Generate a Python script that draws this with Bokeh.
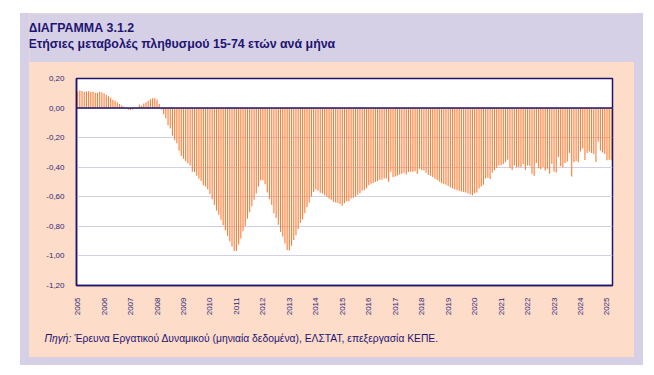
from math import pi
from bokeh.plotting import figure
from bokeh.layouts import column, row
from bokeh.models import (Range1d, FixedTicker, CustomJSTickFormatter, Span, Label,
                          ColumnDataSource, Spacer)
from bokeh.embed import file_html
from bokeh.resources import INLINE

# ---- data: annual % change of population 15-74, monthly (Jan 2005 - Mar 2025)
y2005 = [0.113, 0.118, 0.116, 0.109, 0.113, 0.113, 0.109, 0.111, 0.104, 0.104, 0.111, 0.107]
y2006 = [0.098, 0.089, 0.080, 0.069, 0.056, 0.049, 0.038, 0.027, 0.018, 0.009, 0.002, -0.011]
y2007 = [-0.013, -0.009, 0.001, 0.007, 0.024, 0.016, 0.031, 0.040, 0.049, 0.060, 0.067, 0.067]
y2008 = [0.058, 0.027, -0.009, -0.042, -0.071, -0.116, -0.138, -0.187, -0.216, -0.238, -0.289, -0.324]
y2009 = [-0.342, -0.360, -0.373, -0.389, -0.431, -0.433, -0.458, -0.476, -0.493, -0.522, -0.531, -0.549]
y2010 = [-0.582, -0.616, -0.656, -0.693, -0.722, -0.756, -0.793, -0.827, -0.864, -0.900, -0.936, -0.967]
y2011 = [-0.967, -0.922, -0.882, -0.833, -0.798, -0.749, -0.704, -0.664, -0.620, -0.578, -0.531, -0.489]
y2012 = [-0.489, -0.516, -0.571, -0.616, -0.656, -0.711, -0.744, -0.789, -0.838, -0.871, -0.916, -0.960]
y2013 = [-0.964, -0.931, -0.893, -0.860, -0.820, -0.778, -0.753, -0.711, -0.671, -0.638, -0.600, -0.567]
y2014 = [-0.551, -0.560, -0.573, -0.578, -0.589, -0.600, -0.611, -0.620, -0.633, -0.638, -0.642, -0.649]
y2015 = [-0.660, -0.644, -0.631, -0.631, -0.611, -0.607, -0.598, -0.587, -0.576, -0.560, -0.556, -0.542]
y2016 = [-0.522, -0.511, -0.507, -0.500, -0.493, -0.484, -0.484, -0.476, -0.476, -0.498, -0.431, -0.467]
y2017 = [-0.462, -0.456, -0.451, -0.444, -0.438, -0.449, -0.433, -0.431, -0.431, -0.427, -0.444, -0.411]
y2018 = [-0.420, -0.422, -0.438, -0.453, -0.458, -0.467, -0.478, -0.487, -0.496, -0.509, -0.511, -0.518]
y2019 = [-0.527, -0.538, -0.544, -0.551, -0.556, -0.560, -0.564, -0.567, -0.571, -0.578, -0.584, -0.589]
y2020 = [-0.576, -0.571, -0.544, -0.531, -0.518, -0.476, -0.471, -0.480, -0.438, -0.420, -0.404, -0.389]
y2021 = [-0.387, -0.378, -0.364, -0.349, -0.404, -0.418, -0.389, -0.400, -0.398, -0.400, -0.378, -0.418]
y2022 = [-0.389, -0.391, -0.444, -0.458, -0.371, -0.407, -0.413, -0.398, -0.422, -0.411, -0.444, -0.378]
y2023 = [-0.431, -0.436, -0.331, -0.393, -0.400, -0.371, -0.362, -0.304, -0.462, -0.367, -0.358, -0.367]
y2024 = [-0.293, -0.273, -0.351, -0.304, -0.293, -0.304, -0.311, -0.364, -0.227, -0.289, -0.300, -0.311]
y2025 = [-0.353, -0.349, -0.353]

years = list(range(2005, 2026))
y_ticks = [-1.2, -1.0, -0.8, -0.6, -0.4, -0.2, 0.0, 0.2]

title_text = "ΔΙΑΓΡΑΜΜΑ 3.1.2"
subtitle_text = "Ετήσιες μεταβολές πληθυσμού 15-74 ετών ανά μήνα"
source_lead = "Πηγή:"
source_text = "Έρευνα Εργατικού Δυναμικού (μηνιαία δεδομένα), ΕΛΣΤΑΤ, επεξεργασία ΚΕΠΕ."

series = [y2005, y2006, y2007, y2008, y2009, y2010, y2011, y2012, y2013, y2014,
          y2015, y2016, y2017, y2018, y2019, y2020, y2021, y2022, y2023, y2024, y2025]
xs, vals = [], []
for yr, lst in zip(years, series):
    for m, v in enumerate(lst):
        xs.append(yr + m / 12.0)
        vals.append(v)
src = ColumnDataSource(dict(x=xs, v=vals))

# ---- colours
LAV = "#d5d0e6"
PEACH = "#fddcca"
NAVY = "#1e1470"
TXT = "#2b2878"
BAR = "#ff7b32"
GRID = "#d3cfe9"

PW = 605  # peach panel width


def blank(width, height, bg):
    f = figure(width=width, height=height, output_backend="svg", toolbar_location=None,
               x_axis_location=None, y_axis_location=None,
               x_range=Range1d(0, width), y_range=Range1d(0, height),
               min_border=0, min_border_left=0, min_border_right=0,
               min_border_top=0, min_border_bottom=0)
    f.grid.visible = False
    f.outline_line_color = None
    f.background_fill_color = bg
    f.border_fill_color = bg
    f.frame_align = False
    return f


# header (lavender) with titles
header = blank(PW, 49, LAV)
header.add_layout(Label(x=-1, y=35, text=title_text, text_font="Liberation Sans",
                        text_font_style="bold", text_font_size="12.4px",
                        text_color=NAVY, text_baseline="middle"))
header.add_layout(Label(x=-1, y=19, text=subtitle_text, text_font="Liberation Sans",
                        text_font_style="bold", text_font_size="12.4px",
                        text_color=NAVY, text_baseline="middle"))

# main chart (peach panel)
p = figure(width=PW, height=256, output_backend="svg", toolbar_location=None,
           x_range=Range1d(2005 - 0.5 / 12, 2025 + 2.5 / 12),
           y_range=Range1d(-1.2, 0.2),
           min_border_left=47, min_border_right=22, min_border_top=16, min_border_bottom=30)
p.frame_align = False
p.border_fill_color = PEACH
p.background_fill_color = "white"
p.outline_line_color = NAVY
p.outline_line_width = 1.5

p.vbar(x="x", top="v", bottom=0, width=0.5 / 12, source=src,
       fill_color=BAR, line_color=None)
p.add_layout(Span(location=0, dimension="width", line_color=NAVY, line_width=1.5))

p.xgrid.visible = False
p.ygrid.grid_line_color = GRID
p.ygrid.grid_line_width = 1.2
p.yaxis.ticker = FixedTicker(ticks=y_ticks)
p.yaxis.formatter = CustomJSTickFormatter(code="return tick.toFixed(2).replace('.', ',');")
p.xaxis.ticker = FixedTicker(ticks=years)
p.xaxis.major_label_orientation = pi / 2
for ax in (p.xaxis[0], p.yaxis[0]):
    ax.axis_line_color = NAVY
    ax.axis_line_width = 1.5
    ax.major_tick_line_color = None
    ax.minor_tick_line_color = None
    ax.major_label_text_font = "Liberation Sans"
    ax.major_label_text_font_size = "8px"
    ax.major_label_text_color = TXT
    ax.major_label_standoff = 6

# footer (peach) with source
footer = blank(PW, 39, PEACH)
footer.add_layout(Label(x=15, y=19, text=source_lead, text_font="Liberation Sans",
                        text_font_style="italic", text_font_size="10.3px",
                        text_color=NAVY, text_baseline="middle"))
footer.add_layout(Label(x=45, y=19, text=source_text, text_font="Liberation Sans",
                        text_font_size="10.3px", text_color=NAVY, text_baseline="middle"))

inner = column(header, p, footer, spacing=0,
               styles={"background-color": PEACH, "border-style": "solid",
                       "border-color": LAV, "border-width": "0px 9px 8px 9px"})
layout = column(Spacer(height=13), row(Spacer(width=20), inner, spacing=0), spacing=0)

open("out.html", "w").write(file_html(layout, INLINE))
